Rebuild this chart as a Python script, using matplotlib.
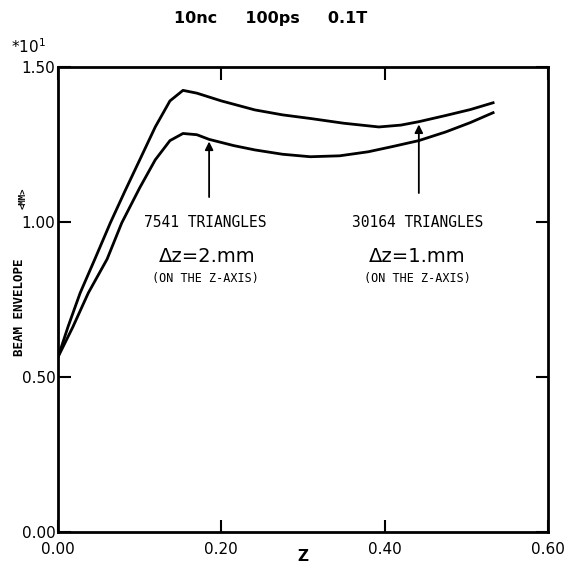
import matplotlib
matplotlib.use("Agg")
import matplotlib.pyplot as plt

# beam envelope (units of 10 mm) along z
z_coarse = [0.000, 0.018, 0.037, 0.060, 0.078, 0.100, 0.119, 0.137, 0.153, 0.170,
            0.185, 0.215, 0.241, 0.275, 0.309, 0.345, 0.380, 0.410, 0.442, 0.475, 0.505, 0.533]
env_coarse = [0.565, 0.661, 0.771, 0.88, 0.997, 1.11, 1.200, 1.262, 1.285, 1.281,
              1.266, 1.246, 1.232, 1.218, 1.210, 1.213, 1.226, 1.243, 1.262, 1.290, 1.320, 1.352]

z_fine = [0.000, 0.012, 0.027, 0.045, 0.064, 0.082, 0.100, 0.119, 0.137, 0.153, 0.170,
          0.200, 0.241, 0.275, 0.310, 0.350, 0.393, 0.420, 0.442, 0.475, 0.505, 0.533]
env_fine = [0.565, 0.661, 0.771, 0.88, 0.997, 1.10, 1.200, 1.306, 1.39, 1.424, 1.415,
            1.39, 1.361, 1.345, 1.333, 1.318, 1.306, 1.312, 1.323, 1.343, 1.362, 1.384]

x_ticks = [0.0, 0.2, 0.4, 0.6]
x_labels = ["0.00", "0.20", "0.40", "0.60"]
y_ticks = [0.0, 0.5, 1.0, 1.5]
y_labels = ["0.00", "0.50", "1.00", "1.50"]

fig = plt.figure(figsize=(5.7, 5.66), dpi=100)
ax = fig.add_axes([0.102, 0.060, 0.859, 0.822])

ax.plot(z_fine, env_fine, color="black", lw=2.0, solid_joinstyle="round")
ax.plot(z_coarse, env_coarse, color="black", lw=2.0, solid_joinstyle="round")

ax.set_xlim(0, 0.6)
ax.set_ylim(0, 1.5)
ax.set_xticks(x_ticks)
ax.set_xticklabels(x_labels)
ax.set_yticks(y_ticks)
ax.set_yticklabels(y_labels)
ax.tick_params(direction="in", length=9, width=1.5, top=True, right=True,
               labelsize=11)
ax.tick_params(axis="x", pad=7)
ax.tick_params(axis="y", pad=2)
for s in ax.spines.values():
    s.set_linewidth(2.0)

ax.set_xlabel("Z", fontsize=11, fontweight="bold")
ax.xaxis.set_label_coords(0.5, -0.037)

# y label and its little unit tag
fig.text(0.035, 0.458, "BEAM ENVELOPE", rotation=90, ha="center", va="center",
         fontsize=9, fontweight="bold", family="DejaVu Sans Mono")
fig.text(0.040, 0.650, "<MM>", rotation=90, ha="center", va="center",
         fontsize=6.5, fontweight="bold", family="DejaVu Sans Mono")

fig.text(0.02, 0.917, r"*10$^{1}$", fontsize=11, ha="left", va="center")
fig.text(0.474, 0.968, "10nc     100ps     0.1T", fontsize=11.5, fontweight="bold",
         ha="center", va="center")

# arrows pointing at the two curves
ax.annotate("", xy=(0.185, 1.268), xytext=(0.185, 1.071),
            arrowprops=dict(arrowstyle="-|>", color="black", lw=1.3, mutation_scale=12))
ax.annotate("", xy=(0.442, 1.323), xytext=(0.442, 1.084),
            arrowprops=dict(arrowstyle="-|>", color="black", lw=1.3, mutation_scale=12))

mono = dict(family="DejaVu Sans Mono", ha="center", va="center")
ax.text(0.180, 0.997, "7541 TRIANGLES", fontsize=10.5, **mono)
ax.text(0.182, 0.887, "Δz=2.mm", fontsize=14, ha="center", va="center")
ax.text(0.180, 0.819, "(ON THE Z-AXIS)", fontsize=8.5, **mono)

ax.text(0.440, 0.997, "30164 TRIANGLES", fontsize=10.5, **mono)
ax.text(0.440, 0.887, "Δz=1.mm", fontsize=14, ha="center", va="center")
ax.text(0.440, 0.819, "(ON THE Z-AXIS)", fontsize=8.5, **mono)

fig.savefig("out.png", dpi=100)
